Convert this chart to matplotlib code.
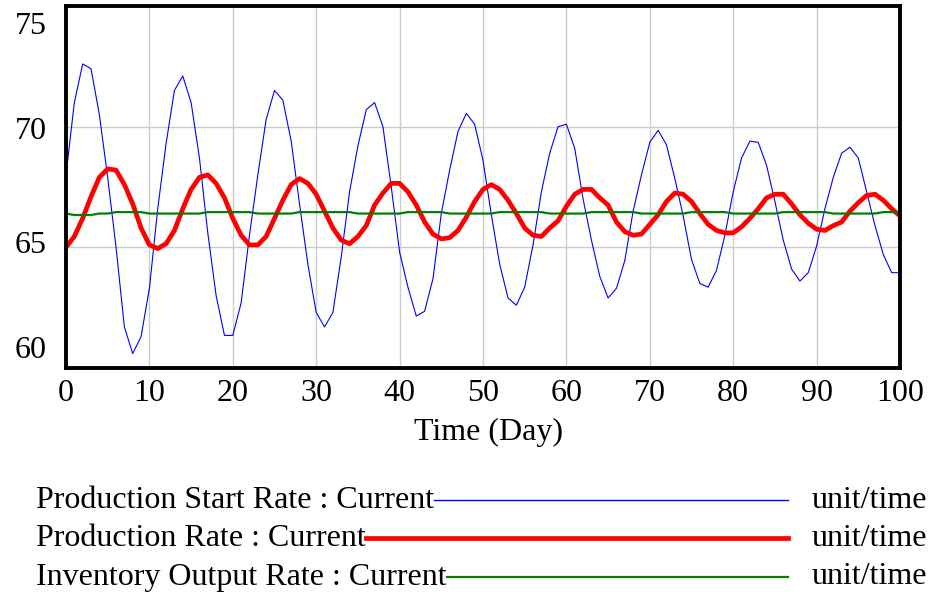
import numpy as np
import matplotlib.pyplot as plt
from matplotlib.lines import Line2D
from matplotlib.transforms import ScaledTranslation

plt.rcParams['font.family'] = ['Liberation Serif', 'DejaVu Serif']

# Simulation output, one value per day
days = np.arange(0, 101)

start_rate = [
    68.0, 71.0, 72.6, 72.4, 70.5, 67.9, 65.0, 61.7, 60.6, 61.3,
    63.3, 66.6, 69.3, 71.5, 72.1, 71.0, 68.7, 65.6, 63.0, 61.35,
    61.35, 62.7, 65.5, 68.0, 70.3, 71.5, 71.1, 69.4, 66.8, 64.3,
    62.3, 61.7, 62.3, 64.6, 67.3, 69.2, 70.7, 71.0, 70.0, 67.5,
    64.8, 63.35, 62.15, 62.35, 63.7, 66.4, 68.2, 69.8, 70.55, 70.1,
    68.6, 66.35, 64.3, 62.9, 62.6, 63.35, 65.1, 67.3, 68.9, 70.0,
    70.1, 69.1, 67.0, 65.3, 63.8, 62.9, 63.3, 64.45, 66.5, 68.0,
    69.35, 69.85, 69.25, 67.85, 66.3, 64.5, 63.5, 63.35, 64.05, 65.5,
    67.3, 68.7, 69.4, 69.35, 68.4, 66.9, 65.3, 64.1, 63.6, 63.95,
    65.05, 66.6, 67.9, 68.9, 69.15, 68.7, 67.3, 65.9, 64.7, 63.95,
    63.95,
]

prod_rate = [
    65.0, 65.45, 66.2, 67.1, 67.9, 68.25, 68.2, 67.6, 66.8, 65.8,
    65.1, 64.95, 65.15, 65.7, 66.6, 67.4, 67.9, 68.0, 67.65, 67.05,
    66.2, 65.5, 65.1, 65.1, 65.45, 66.2, 66.95, 67.6, 67.85, 67.65,
    67.2, 66.5, 65.8, 65.3, 65.15, 65.45, 65.9, 66.75, 67.25, 67.65,
    67.65, 67.3, 66.75, 66.05, 65.55, 65.35, 65.4, 65.7, 66.25, 66.9,
    67.4, 67.6, 67.4, 66.95, 66.4, 65.8, 65.5, 65.45, 65.8, 66.1,
    66.7, 67.2, 67.4, 67.4, 67.05, 66.75, 66.05, 65.65, 65.5, 65.55,
    65.95, 66.35, 66.9, 67.25, 67.2, 66.9, 66.4, 65.95, 65.7, 65.6,
    65.6, 65.85, 66.2, 66.6, 67.05, 67.2, 67.2, 66.8, 66.35, 66.0,
    65.75, 65.7, 65.9, 66.05, 66.5, 66.85, 67.15, 67.2, 66.95, 66.6,
    66.3,
]

inv_output = [
    66.40, 66.34, 66.34, 66.34, 66.40, 66.40, 66.46, 66.46, 66.46, 66.46,
    66.40, 66.40, 66.40, 66.40, 66.40, 66.40, 66.40, 66.46, 66.46, 66.46,
    66.46, 66.46, 66.46, 66.40, 66.40, 66.40, 66.40, 66.40, 66.46, 66.46,
    66.46, 66.46, 66.46, 66.46, 66.46, 66.40, 66.40, 66.40, 66.40, 66.40,
    66.40, 66.46, 66.46, 66.46, 66.46, 66.46, 66.40, 66.40, 66.40, 66.40,
    66.40, 66.40, 66.46, 66.46, 66.46, 66.46, 66.46, 66.46, 66.40, 66.40,
    66.40, 66.40, 66.40, 66.46, 66.46, 66.46, 66.46, 66.46, 66.46, 66.40,
    66.40, 66.40, 66.40, 66.40, 66.40, 66.46, 66.46, 66.46, 66.46, 66.46,
    66.40, 66.40, 66.40, 66.40, 66.40, 66.40, 66.46, 66.46, 66.46, 66.46,
    66.46, 66.46, 66.40, 66.40, 66.40, 66.40, 66.40, 66.40, 66.46, 66.46,
    66.46,
]

series_names = ["Production Start Rate : Current",
                "Production Rate : Current",
                "Inventory Output Rate : Current"]
series_units = ["unit/time", "unit/time", "unit/time"]
colors = ['#0000ff', '#ff0000', '#008000']
widths = [0.8, 3.4, 1.6]

W, H = 929, 595
fs = 23

fig = plt.figure(figsize=(W / 100, H / 100), dpi=100)
ax = fig.add_axes([66 / W, 1 - 368 / H, (900 - 66) / W, (368 - 6) / H])

for vals, c, lw in zip([start_rate, prod_rate, inv_output], colors, widths):
    ax.plot(days, vals, color=c, lw=lw, solid_joinstyle='round')

ax.set_xlim(0, 100)
ax.set_ylim(60, 75)
ax.set_xticks(range(0, 101, 10))
ax.set_yticks([60, 65, 70, 75])
ax.grid(color='#cccccc', lw=1)
ax.set_axisbelow(True)
ax.tick_params(length=0, labelsize=fs)
ax.tick_params(axis='x', pad=8)
ax.tick_params(axis='y', pad=14)
for sp in ax.spines.values():
    sp.set_linewidth(2.8)
    sp.set_color('black')

# Vensim-style: y labels nudged so they stay inside the plot range
ylabels = ax.get_yticklabels()
ylabels[0].set_va('bottom')
ylabels[-1].set_va('top')
for lab, dy in zip(ylabels, [2, 4, -1, -4]):
    lab.set_transform(lab.get_transform() + ScaledTranslation(0, dy / 72, fig.dpi_scale_trans))

fig.text(489 / W, 1 - 432 / H, "Time (Day)", fontsize=fs, ha='center', va='center')

# legend rows under the chart
fig.canvas.draw()
renderer = fig.canvas.get_renderer()
row_y = [500, 538, 577]
for name, unit, c, lw, y in zip(series_names, series_units, colors, widths, row_y):
    t = fig.text(36 / W, 1 - y / H, name, fontsize=fs, ha='left', va='center')
    fig.text(812 / W, 1 - y / H, unit, fontsize=fs, ha='left', va='center')
    bb = t.get_window_extent(renderer)
    fig.add_artist(Line2D([bb.x1 / W, 788 / W], [1 - y / H, 1 - y / H],
                          transform=fig.transFigure, color=c, lw=max(lw, 1.0)))

fig.savefig("out.png", dpi=100)
